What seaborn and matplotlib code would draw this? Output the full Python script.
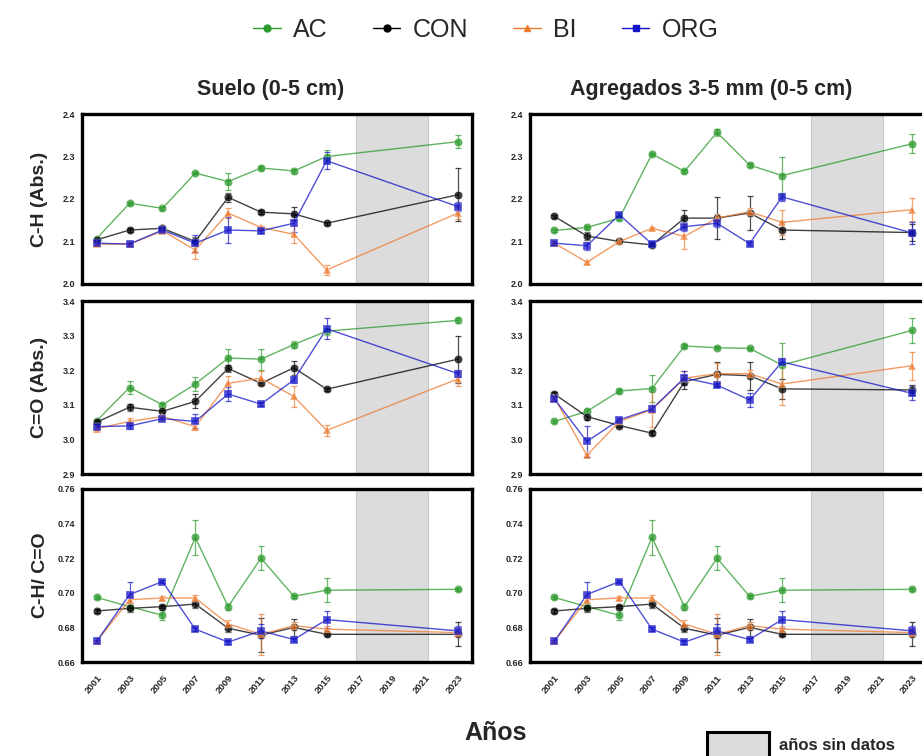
import matplotlib
matplotlib.use("Agg")
import matplotlib.pyplot as plt
import seaborn as sns
import pandas as pd
from matplotlib.lines import Line2D
from matplotlib.patches import Rectangle
from matplotlib.ticker import FormatStrFormatter

years = [2001, 2003, 2005, 2007, 2009, 2011, 2013, 2015, 2023]
treatments = ["AC", "CON", "BI", "ORG"]
year_ticks = list(range(2001, 2024, 2))

# C-H, suelo
ch_suelo_ac = [2.107, 2.190, 2.178, 2.261, 2.241, 2.273, 2.266, 2.300, 2.335]
ch_suelo_con = [2.104, 2.127, 2.131, 2.100, 2.204, 2.169, 2.165, 2.143, 2.210]
ch_suelo_bi = [2.094, 2.094, 2.125, 2.080, 2.167, 2.133, 2.117, 2.033, 2.167]
ch_suelo_org = [2.096, 2.094, 2.127, 2.096, 2.127, 2.125, 2.143, 2.290, 2.182]
ch_suelo_ac_err = [0.004, 0.004, 0.003, 0.003, 0.020, 0.004, 0.005, 0.015, 0.015]
ch_suelo_con_err = [0.004, 0.004, 0.004, 0.010, 0.010, 0.004, 0.015, 0.003, 0.062]
ch_suelo_bi_err = [0.004, 0.004, 0.004, 0.020, 0.012, 0.004, 0.020, 0.012, 0.015]
ch_suelo_org_err = [0.004, 0.004, 0.004, 0.020, 0.030, 0.004, 0.020, 0.020, 0.010]

# C-H, agregados
ch_agr_ac = [2.126, 2.133, 2.155, 2.306, 2.265, 2.357, 2.280, 2.255, 2.330]
ch_agr_con = [2.159, 2.113, 2.100, 2.092, 2.155, 2.155, 2.167, 2.127, 2.121]
ch_agr_bi = [2.096, 2.051, 2.100, 2.131, 2.112, 2.155, 2.170, 2.145, 2.175]
ch_agr_org = [2.096, 2.090, 2.163, 2.094, 2.135, 2.143, 2.095, 2.205, 2.120]
ch_agr_ac_err = [0.003, 0.004, 0.004, 0.003, 0.004, 0.008, 0.004, 0.045, 0.022]
ch_agr_con_err = [0.004, 0.010, 0.004, 0.004, 0.020, 0.050, 0.040, 0.020, 0.020]
ch_agr_bi_err = [0.004, 0.004, 0.004, 0.004, 0.030, 0.010, 0.010, 0.030, 0.027]
ch_agr_org_err = [0.004, 0.010, 0.004, 0.004, 0.010, 0.010, 0.004, 0.010, 0.025]

# C=O, suelo
co_suelo_ac = [3.054, 3.150, 3.100, 3.160, 3.235, 3.232, 3.274, 3.313, 3.344]
co_suelo_con = [3.050, 3.093, 3.081, 3.110, 3.205, 3.162, 3.207, 3.145, 3.232]
co_suelo_bi = [3.031, 3.052, 3.066, 3.037, 3.162, 3.177, 3.124, 3.026, 3.175]
co_suelo_org = [3.037, 3.039, 3.060, 3.052, 3.131, 3.102, 3.172, 3.320, 3.190]
co_suelo_ac_err = [0.005, 0.020, 0.005, 0.020, 0.025, 0.030, 0.010, 0.010, 0.008]
co_suelo_con_err = [0.005, 0.010, 0.005, 0.020, 0.010, 0.005, 0.020, 0.005, 0.068]
co_suelo_bi_err = [0.005, 0.010, 0.005, 0.010, 0.020, 0.020, 0.030, 0.015, 0.020]
co_suelo_org_err = [0.005, 0.010, 0.005, 0.020, 0.020, 0.005, 0.010, 0.030, 0.010]

# C=O, agregados
co_agr_ac = [3.052, 3.081, 3.140, 3.147, 3.270, 3.265, 3.263, 3.215, 3.315]
co_agr_con = [3.131, 3.066, 3.040, 3.018, 3.167, 3.188, 3.184, 3.146, 3.143]
co_agr_bi = [3.120, 2.954, 3.052, 3.086, 3.177, 3.190, 3.190, 3.160, 3.213]
co_agr_org = [3.117, 2.994, 3.057, 3.088, 3.178, 3.157, 3.114, 3.224, 3.133]
co_agr_ac_err = [0.005, 0.008, 0.005, 0.040, 0.005, 0.005, 0.005, 0.065, 0.035]
co_agr_con_err = [0.005, 0.010, 0.005, 0.005, 0.020, 0.035, 0.040, 0.030, 0.015]
co_agr_bi_err = [0.005, 0.005, 0.005, 0.050, 0.020, 0.030, 0.010, 0.060, 0.040]
co_agr_org_err = [0.005, 0.045, 0.005, 0.010, 0.020, 0.005, 0.020, 0.010, 0.020]

# C-H / C=O (same in both columns)
ratio_ac = [0.6973, 0.6920, 0.6870, 0.7320, 0.6920, 0.7200, 0.6980, 0.7015, 0.7020]
ratio_con = [0.6895, 0.6910, 0.6920, 0.6935, 0.6795, 0.6755, 0.6800, 0.6760, 0.6760]
ratio_bi = [0.6720, 0.6960, 0.6970, 0.6970, 0.6820, 0.6760, 0.6810, 0.6790, 0.6770]
ratio_org = [0.6720, 0.6990, 0.7065, 0.6790, 0.6715, 0.6780, 0.6730, 0.6845, 0.6780]
ratio_ac_err = [0.001, 0.002, 0.003, 0.010, 0.002, 0.007, 0.001, 0.007, 0.001]
ratio_con_err = [0.001, 0.002, 0.001, 0.002, 0.002, 0.010, 0.005, 0.001, 0.007]
ratio_bi_err = [0.001, 0.002, 0.001, 0.002, 0.002, 0.012, 0.002, 0.002, 0.002]
ratio_org_err = [0.001, 0.007, 0.001, 0.001, 0.001, 0.004, 0.001, 0.005, 0.003]

palette = {"AC": "#2b9a2b", "CON": "#000000", "BI": "#ee7b30", "ORG": "#1414c8"}
marker_map = {"AC": "o", "CON": "o", "BI": "^", "ORG": "s"}
gap_years = (2016.8, 2021.2)


def to_frame(series, errs):
    rows = []
    for t in treatments:
        for y, v, e in zip(years, series[t], errs[t]):
            rows.append({"year": y, "value": v, "err": e, "trat": t})
    return pd.DataFrame(rows)


def draw_panel(ax, df, ylim, yticks, fmt, xlim, bottom_row):
    ax.axvspan(*gap_years, color="#dcdcdc", ec="#c8c8c8", lw=0.8, zorder=0)
    for t in treatments:
        d = df[df["trat"] == t]
        ax.errorbar(d["year"], d["value"], yerr=d["err"], fmt="none",
                    ecolor=palette[t], elinewidth=0.9, capsize=2.5,
                    capthick=0.9, alpha=0.7, zorder=2)
    sns.lineplot(data=df, x="year", y="value", hue="trat", style="trat",
                 hue_order=treatments, style_order=treatments,
                 palette=palette, markers=marker_map, dashes=False,
                 markersize=6, markeredgewidth=0.3, linewidth=1.0,
                 alpha=0.75, legend=False, ax=ax, zorder=3)
    ax.set_xlim(*xlim)
    ax.set_ylim(*ylim)
    ax.set_yticks(yticks)
    ax.yaxis.set_major_formatter(FormatStrFormatter(fmt))
    ax.set_xlabel("")
    ax.set_ylabel("")
    for s in ax.spines.values():
        s.set_linewidth(2.4)
        s.set_color("black")
    ax.tick_params(axis="y", length=4, width=1.4, labelsize=6.5, pad=1)
    for lab in ax.get_yticklabels():
        lab.set_fontweight("bold")
    if bottom_row:
        ax.set_xticks(year_ticks)
        ax.set_xticklabels([str(y) for y in year_ticks], rotation=50,
                           ha="right", rotation_mode="anchor",
                           fontsize=6.8, fontweight="bold")
        ax.tick_params(axis="x", length=5, width=1.4, pad=3)
    else:
        ax.set_xticks([])


sns.set_style("white")
plt.rcParams["font.family"] = ["Liberation Sans", "DejaVu Sans"]

fig = plt.figure(figsize=(9.22, 7.56), dpi=100)

col_left = [(82 / 922, 390 / 922, (2000.1, 2023.85)),
            (530 / 922, 396 / 922, (1999.5, 2023.85))]
row_pos = [(1 - 284 / 756, 170 / 756), (1 - 474 / 756, 173 / 756),
           (1 - 662 / 756, 173 / 756)]

panels = [
    [({"AC": ch_suelo_ac, "CON": ch_suelo_con, "BI": ch_suelo_bi, "ORG": ch_suelo_org},
      {"AC": ch_suelo_ac_err, "CON": ch_suelo_con_err, "BI": ch_suelo_bi_err, "ORG": ch_suelo_org_err}),
     ({"AC": ch_agr_ac, "CON": ch_agr_con, "BI": ch_agr_bi, "ORG": ch_agr_org},
      {"AC": ch_agr_ac_err, "CON": ch_agr_con_err, "BI": ch_agr_bi_err, "ORG": ch_agr_org_err})],
    [({"AC": co_suelo_ac, "CON": co_suelo_con, "BI": co_suelo_bi, "ORG": co_suelo_org},
      {"AC": co_suelo_ac_err, "CON": co_suelo_con_err, "BI": co_suelo_bi_err, "ORG": co_suelo_org_err}),
     ({"AC": co_agr_ac, "CON": co_agr_con, "BI": co_agr_bi, "ORG": co_agr_org},
      {"AC": co_agr_ac_err, "CON": co_agr_con_err, "BI": co_agr_bi_err, "ORG": co_agr_org_err})],
    [({"AC": ratio_ac, "CON": ratio_con, "BI": ratio_bi, "ORG": ratio_org},
      {"AC": ratio_ac_err, "CON": ratio_con_err, "BI": ratio_bi_err, "ORG": ratio_org_err})] * 2,
]
y_setup = [((2.0, 2.4), [2.0, 2.1, 2.2, 2.3, 2.4], "%.1f"),
           ((2.9, 3.4), [2.9, 3.0, 3.1, 3.2, 3.3, 3.4], "%.1f"),
           ((0.66, 0.76), [0.66, 0.68, 0.70, 0.72, 0.74, 0.76], "%.2f")]
ylabels = ["C-H (Abs.)", "C=O (Abs.)", "C-H/ C=O"]

for r in range(3):
    for c in range(2):
        left, width, xlim = col_left[c]
        bottom, height = row_pos[r]
        ax = fig.add_axes([left, bottom, width, height])
        vals, errs = panels[r][c]
        ylim, yticks, fmt = y_setup[r]
        draw_panel(ax, to_frame(vals, errs), ylim, yticks, fmt, xlim, r == 2)
    fig.text(40 / 922, bottom + height / 2, ylabels[r], rotation=90,
             ha="center", va="center", fontsize=14, fontweight="bold")

fig.text(271 / 922, 1 - 90 / 756, "Suelo (0-5 cm)", ha="center",
         va="center", fontsize=15.5, fontweight="bold")
fig.text(711 / 922, 1 - 90 / 756, "Agregados 3-5 mm (0-5 cm)", ha="center",
         va="center", fontsize=15.5, fontweight="bold")
fig.text(496 / 922, 1 - 733 / 756, "Años", ha="center", va="center",
         fontsize=18, fontweight="bold")

handles = [Line2D([0], [0], color=palette[t], marker=marker_map[t],
                  markersize=5, lw=1.0) for t in treatments]
fig.legend(handles, treatments, loc="center", ncol=4, frameon=False,
           bbox_to_anchor=(486 / 922, 1 - 30 / 756), fontsize=18,
           handlelength=1.1, handletextpad=0.5, columnspacing=1.8)

# legend key for the shaded years (runs off the bottom edge, as in the source)
fig.add_artist(Rectangle((707 / 922, 1 - 770 / 756), 62 / 922, 38 / 756,
                         transform=fig.transFigure, facecolor="#dcdcdc",
                         edgecolor="black", linewidth=2.2))
fig.text(779 / 922, 1 - 745 / 756, "años sin datos", ha="left", va="center",
         fontsize=12, fontweight="bold")

fig.savefig("out.png", dpi=100)
